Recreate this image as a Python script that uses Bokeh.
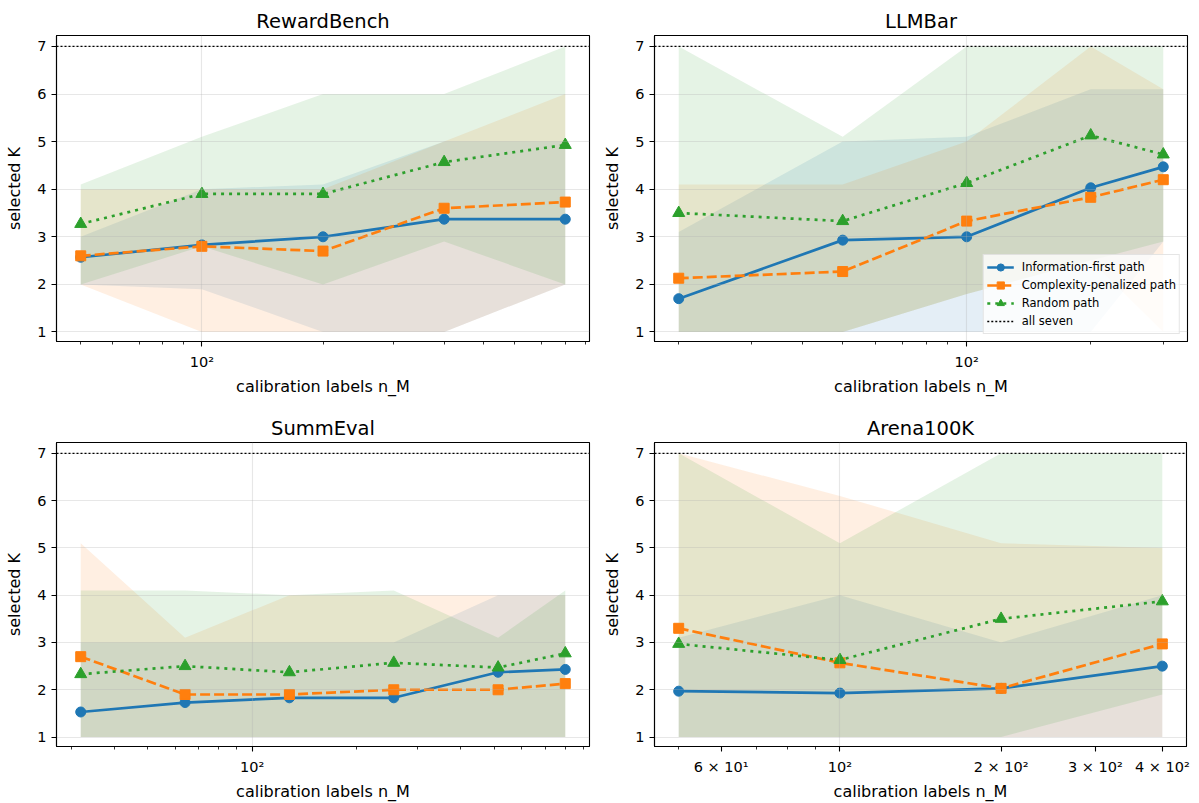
import math
from bokeh.plotting import figure
from bokeh.layouts import column, row
from bokeh.models import FixedTicker, Span, Legend, LegendItem, Range1d
from bokeh.embed import file_html
from bokeh.resources import INLINE

# ---------------- data ----------------
METHODS = ["Information-first path", "Complexity-penalized path", "Random path"]
ALL_SEVEN = 7
ALL_SEVEN_LABEL = "all seven"
Y_TICKS = [1, 2, 3, 4, 5, 6, 7]

# RewardBench
RB_N = [50, 100, 200, 400, 800]
RB_INFO = [2.57, 2.83, 3.00, 3.37, 3.37]
RB_COMP = [2.60, 2.80, 2.70, 3.60, 3.73]
RB_RAND = [3.27, 3.90, 3.90, 4.57, 4.93]
RB_INFO_LO = [2.0, 1.9, 1.0, 1.0, 2.0]
RB_INFO_HI = [3.0, 4.0, 4.1, 5.0, 5.0]
RB_COMP_LO = [2.0, 1.0, 1.0, 1.0, 2.0]
RB_COMP_HI = [4.0, 4.0, 4.0, 5.0, 6.0]
RB_RAND_LO = [2.0, 2.8, 2.0, 2.9, 2.0]
RB_RAND_HI = [4.1, 5.1, 6.0, 6.0, 7.0]

# LLMBar
LB_N = [20, 50, 100, 200, 300]
LB_INFO = [1.70, 2.93, 3.00, 4.03, 4.47]
LB_COMP = [2.13, 2.27, 3.33, 3.83, 4.20]
LB_RAND = [3.50, 3.33, 4.13, 5.13, 4.73]
LB_INFO_LO = [1.0, 1.0, 1.0, 1.0, 2.9]
LB_INFO_HI = [3.1, 5.0, 5.1, 6.1, 6.1]
LB_COMP_LO = [1.0, 1.0, 1.8, 2.5, 1.0]
LB_COMP_HI = [4.1, 4.1, 5.0, 7.0, 6.1]
LB_RAND_LO = [1.0, 1.0, 1.8, 2.5, 2.9]
LB_RAND_HI = [7.0, 5.1, 7.0, 7.0, 7.0]

# SummEval
SE_N = [32, 64, 128, 256, 512, 800]
SE_INFO = [1.53, 1.73, 1.83, 1.83, 2.37, 2.43]
SE_COMP = [2.70, 1.90, 1.90, 2.00, 2.00, 2.13]
SE_RAND = [2.33, 2.50, 2.37, 2.57, 2.47, 2.77]
SE_INFO_LO = [1.0, 1.0, 1.0, 1.0, 1.0, 1.0]
SE_INFO_HI = [3.0, 3.0, 3.0, 3.0, 4.0, 4.0]
SE_COMP_LO = [1.0, 1.0, 1.0, 1.0, 1.0, 1.0]
SE_COMP_HI = [5.1, 3.1, 4.0, 4.0, 4.0, 4.0]
SE_RAND_LO = [1.0, 1.0, 1.0, 1.0, 1.0, 1.0]
SE_RAND_HI = [4.1, 4.1, 4.0, 4.1, 3.1, 4.1]

# Arena100K
AR_N = [50, 100, 200, 400]
AR_INFO = [1.97, 1.93, 2.03, 2.50]
AR_COMP = [3.30, 2.57, 2.03, 2.97]
AR_RAND = [2.97, 2.63, 3.50, 3.87]
AR_INFO_LO = [1.0, 1.0, 1.0, 1.0]
AR_INFO_HI = [3.1, 4.0, 3.0, 4.0]
AR_COMP_LO = [1.0, 1.0, 1.0, 1.0]
AR_COMP_HI = [7.0, 6.1, 5.1, 5.0]
AR_RAND_LO = [1.0, 1.0, 1.0, 1.9]
AR_RAND_HI = [7.0, 5.1, 7.0, 7.0]

# x tick values / labels
GRID_X = [100]
RB_MAJOR = [100]
RB_LABELS = ["10²"]
RB_MINOR = [50, 60, 70, 80, 90, 200, 300, 400, 500, 600, 700, 800, 900]
LB_MAJOR = [100]
LB_LABELS = ["10²"]
LB_MINOR = [20, 30, 40, 50, 60, 70, 80, 90, 200, 300]
SE_MAJOR = [100]
SE_LABELS = ["10²"]
SE_MINOR = [30, 40, 50, 60, 70, 80, 90, 200, 300, 400, 500, 600, 700, 800, 900]
AR_MAJOR = [60, 100, 200, 300, 400]
AR_LABELS = ["6 × 10¹", "10²", "2 × 10²", "3 × 10²", "4 × 10²"]
AR_MINOR = [50, 70, 80, 90]

# ---------------- style ----------------
FONT = "DejaVu Sans"
COLORS = ["#1f77b4", "#ff7f0e", "#2ca02c"]
DASHES = ["solid", "10 4", "3 5"]
MARKERS = ["circle", "square", "triangle"]
MSIZES = [10, 10, 12]
LW = 2.7
BAND_ALPHA = 0.12
Y_LO, Y_HI = 0.8, 7.23


def make_panel(title, n, means, los, his, major, labels, minor,
               width, height, borders, legend=False):
    left, right, top, bottom = borders
    lmin, lmax = math.log10(min(n)), math.log10(max(n))
    pad = 0.05 * (lmax - lmin)
    p = figure(width=width, height=height, x_axis_type="log",
               x_range=Range1d(10 ** (lmin - pad), 10 ** (lmax + pad)),
               y_range=Range1d(Y_LO, Y_HI),
               output_backend="svg", toolbar_location=None,
               min_border_left=left, min_border_right=right,
               min_border_top=top, min_border_bottom=bottom,
               title=title)
    p.title.align = "center"
    p.title.text_font = FONT
    p.title.text_font_size = "19.5px"
    p.title.text_font_style = "normal"
    p.title.text_color = "black"
    p.title.standoff = 6

    p.outline_line_color = "black"
    p.outline_line_width = 1.1
    p.outline_line_alpha = 1.0
    p.background_fill_color = "white"
    p.border_fill_color = "white"

    # grids
    p.xgrid.ticker = FixedTicker(ticks=GRID_X)
    p.ygrid.ticker = FixedTicker(ticks=Y_TICKS)
    for g in (p.xgrid[0], p.ygrid[0]):
        g.grid_line_color = "#b0b0b0"
        g.grid_line_alpha = 0.3
        g.grid_line_width = 1.1
        g.level = "glyph"

    # axes
    p.xaxis.ticker = FixedTicker(ticks=major, minor_ticks=minor)
    p.xaxis.major_label_overrides = {float(t): lab for t, lab in zip(major, labels)}
    p.yaxis.ticker = FixedTicker(ticks=Y_TICKS, minor_ticks=[])
    p.xaxis.axis_label = "calibration labels n_M"
    p.yaxis.axis_label = "selected K"
    for ax in (p.xaxis[0], p.yaxis[0]):
        ax.axis_label_text_font = FONT
        ax.axis_label_text_font_size = "16px"
        ax.axis_label_text_font_style = "normal"
        ax.axis_label_text_color = "black"
        ax.major_label_text_font = FONT
        ax.major_label_text_font_size = "14.5px"
        ax.major_label_text_color = "black"
        ax.axis_line_color = "black"
        ax.axis_line_width = 1.1
        ax.major_tick_line_color = "black"
        ax.major_tick_line_width = 1.1
        ax.minor_tick_line_color = "black"
        ax.minor_tick_line_width = 0.8
        ax.major_tick_in = 0
        ax.major_tick_out = 5
        ax.minor_tick_in = 0
        ax.minor_tick_out = 3
        ax.major_label_standoff = 5
    p.xaxis.major_label_standoff = 7
    p.xaxis.axis_label_standoff = 4
    p.yaxis.axis_label_standoff = 10

    # bands
    for k in range(3):
        p.varea(x=n, y1=los[k], y2=his[k], fill_color=COLORS[k],
                fill_alpha=BAND_ALPHA, level="underlay")

    items = []
    for k in range(3):
        lr = p.line(n, means[k], line_color=COLORS[k], line_width=LW,
                    line_dash=DASHES[k])
        sr = p.scatter(n, means[k], marker=MARKERS[k], size=MSIZES[k],
                       fill_color=COLORS[k], line_color=COLORS[k], line_width=1)
        items.append(LegendItem(label=METHODS[k], renderers=[lr, sr]))

    p.add_layout(Span(location=ALL_SEVEN, dimension="width", line_color="black",
                      line_width=1.3, line_dash="2 2"))
    # single-point line: draws nothing in the plot, only provides the legend glyph
    dummy = p.line(x=[n[0]], y=[ALL_SEVEN], line_color="black", line_width=1.3,
                   line_dash="2 2")
    items.append(LegendItem(label=ALL_SEVEN_LABEL, renderers=[dummy]))

    if legend:
        lg = Legend(items=items, location="bottom_right")
        lg.label_text_font = FONT
        lg.label_text_font_size = "11.5px"
        lg.label_text_color = "black"
        lg.glyph_width = 27
        lg.glyph_height = 18
        lg.label_height = 18
        lg.label_standoff = 8
        lg.spacing = 0
        lg.padding = 3
        lg.margin = 7
        lg.border_line_color = "#cccccc"
        lg.border_line_width = 1
        lg.background_fill_alpha = 0.8
        p.add_layout(lg)
    return p


p1 = make_panel("RewardBench", RB_N, [RB_INFO, RB_COMP, RB_RAND],
                [RB_INFO_LO, RB_COMP_LO, RB_RAND_LO],
                [RB_INFO_HI, RB_COMP_HI, RB_RAND_HI],
                RB_MAJOR, RB_LABELS, RB_MINOR, 600, 400, (56, 11, 35, 59))
p2 = make_panel("LLMBar", LB_N, [LB_INFO, LB_COMP, LB_RAND],
                [LB_INFO_LO, LB_COMP_LO, LB_RAND_LO],
                [LB_INFO_HI, LB_COMP_HI, LB_RAND_HI],
                LB_MAJOR, LB_LABELS, LB_MINOR, 599, 400, (53, 12, 35, 59),
                legend=True)
p3 = make_panel("SummEval", SE_N, [SE_INFO, SE_COMP, SE_RAND],
                [SE_INFO_LO, SE_COMP_LO, SE_RAND_LO],
                [SE_INFO_HI, SE_COMP_HI, SE_RAND_HI],
                SE_MAJOR, SE_LABELS, SE_MINOR, 600, 403, (56, 11, 42, 57))
p4 = make_panel("Arena100K", AR_N, [AR_INFO, AR_COMP, AR_RAND],
                [AR_INFO_LO, AR_COMP_LO, AR_RAND_LO],
                [AR_INFO_HI, AR_COMP_HI, AR_RAND_HI],
                AR_MAJOR, AR_LABELS, AR_MINOR, 599, 403, (53, 13, 42, 57))

layout = column(row(p1, p2), row(p3, p4))
open("out.html", "w").write(file_html(layout, INLINE))
